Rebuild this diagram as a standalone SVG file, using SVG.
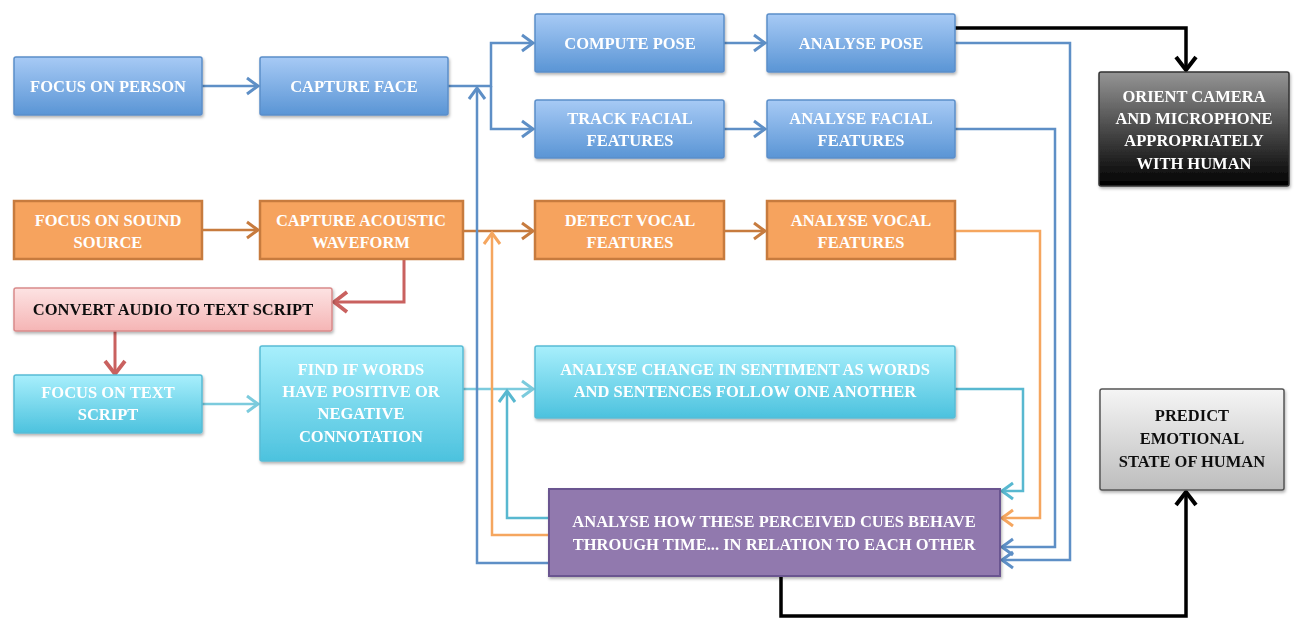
<svg xmlns="http://www.w3.org/2000/svg" width="1294" height="621" viewBox="0 0 1294 621">
<style>
  .t { font-family: "Liberation Serif", "DejaVu Serif", serif; font-size: 16.5px; font-weight: bold; text-anchor: middle; dominant-baseline: central; }
  .w { fill: #ffffff; }
  .k { fill: #111111; }
  .blue { fill: url(#gBlue); stroke: #5b8ec9; stroke-width: 1.5; }
  .orange { fill: #f6a35e; stroke: #c77b3e; stroke-width: 2.5; }
  .pink { fill: url(#gPink); stroke: #d98a8a; stroke-width: 1.5; }
  .cyan { fill: url(#gCyan); stroke: #58bcd5; stroke-width: 1.5; }
  .purple { fill: #9179ae; stroke: #6a5590; stroke-width: 2; }
  .dark { fill: url(#gDark); stroke: #333333; stroke-width: 1.5; }
  .gray { fill: url(#gGray); stroke: #555555; stroke-width: 1.5; }
  .c { fill: none; stroke-linejoin: miter; }
  .cb { stroke: #5e8fc6; stroke-width: 2.5; }
  .co { stroke: #c77b3e; stroke-width: 2.5; }
  .cl { stroke: #f5a65f; stroke-width: 2.5; }
  .cr { stroke: #c9615f; stroke-width: 3; }
  .cc { stroke: #58b8d0; stroke-width: 2.5; }
  .cc2 { stroke: #7ccbdd; stroke-width: 2.5; }
  .ck { stroke: #000000; stroke-width: 3.5; }
</style>
<defs>
  <linearGradient id="gBlue" x1="0" y1="0" x2="0" y2="1"><stop offset="0" stop-color="#a7caf5"/><stop offset="1" stop-color="#5a95d5"/></linearGradient>
  <linearGradient id="gPink" x1="0" y1="0" x2="0" y2="1"><stop offset="0" stop-color="#fde3e3"/><stop offset="1" stop-color="#f5b5b5"/></linearGradient>
  <linearGradient id="gCyan" x1="0" y1="0" x2="0" y2="1"><stop offset="0" stop-color="#a8effc"/><stop offset="1" stop-color="#4cc2de"/></linearGradient>
  <linearGradient id="gDark" x1="0" y1="0" x2="0" y2="1"><stop offset="0" stop-color="#959595"/><stop offset="0.5" stop-color="#4a4a4a"/><stop offset="1" stop-color="#000000"/></linearGradient>
  <linearGradient id="gGray" x1="0" y1="0" x2="0" y2="1"><stop offset="0" stop-color="#f5f5f5"/><stop offset="1" stop-color="#bdbdbd"/></linearGradient>
  <filter id="sh" x="-10%" y="-10%" width="120%" height="130%"><feDropShadow dx="1" dy="2" stdDeviation="1.5" flood-color="#000" flood-opacity="0.3"/></filter>
  <marker id="aB" markerUnits="userSpaceOnUse" markerWidth="16" markerHeight="20" viewBox="0 0 16 20" refX="13" refY="10" orient="auto"><path d="M2,2 L13,10 L2,18" fill="none" stroke="#5e8fc6" stroke-width="3"/></marker>
  <marker id="aO" markerUnits="userSpaceOnUse" markerWidth="16" markerHeight="20" viewBox="0 0 16 20" refX="13" refY="10" orient="auto"><path d="M2,2 L13,10 L2,18" fill="none" stroke="#c77b3e" stroke-width="3"/></marker>
  <marker id="aL" markerUnits="userSpaceOnUse" markerWidth="16" markerHeight="20" viewBox="0 0 16 20" refX="13" refY="10" orient="auto"><path d="M2,2 L13,10 L2,18" fill="none" stroke="#f5a65f" stroke-width="3"/></marker>
  <marker id="aR" markerUnits="userSpaceOnUse" markerWidth="18" markerHeight="24" viewBox="0 0 18 24" refX="15" refY="12" orient="auto"><path d="M2,2 L15,12 L2,22" fill="none" stroke="#c9615f" stroke-width="3.8"/></marker>
  <marker id="aC" markerUnits="userSpaceOnUse" markerWidth="16" markerHeight="20" viewBox="0 0 16 20" refX="13" refY="10" orient="auto"><path d="M2,2 L13,10 L2,18" fill="none" stroke="#58b8d0" stroke-width="3"/></marker>
  <marker id="aC2" markerUnits="userSpaceOnUse" markerWidth="16" markerHeight="20" viewBox="0 0 16 20" refX="13" refY="10" orient="auto"><path d="M2,2 L13,10 L2,18" fill="none" stroke="#7ccbdd" stroke-width="3"/></marker>
  <marker id="aK" markerUnits="userSpaceOnUse" markerWidth="18" markerHeight="24" viewBox="0 0 18 24" refX="15" refY="12" orient="auto"><path d="M2,2 L15,12 L2,22" fill="none" stroke="#000" stroke-width="4"/></marker>
</defs>
<rect width="1294" height="621" fill="#ffffff"/>

<g id="connectors">
  <path class="c cb" d="M202,86 H258" marker-end="url(#aB)"/>
  <path class="c cb" d="M448,86 H491 V43 H533" marker-end="url(#aB)"/>
  <path class="c cb" d="M491,86 V129 H533" marker-end="url(#aB)"/>
  <path class="c cb" d="M724,43 H765" marker-end="url(#aB)"/>
  <path class="c cb" d="M724,129 H765" marker-end="url(#aB)"/>
  <path class="c co" d="M202,230 H258" marker-end="url(#aO)"/>
  <path class="c co" d="M463,231 H533" marker-end="url(#aO)"/>
  <path class="c co" d="M724,231 H765" marker-end="url(#aO)"/>
  <path class="c cr" d="M404,259 V302 H334" marker-end="url(#aR)"/>
  <path class="c cr" d="M115,331 V374" stroke-width="4" marker-end="url(#aR)"/>
  <path class="c cc2" d="M202,404 H258" marker-end="url(#aC2)"/>
  <path class="c cc2" d="M463,389 H533" marker-end="url(#aC2)"/>
  <path class="c cb" d="M549,563 H477 V88" marker-end="url(#aB)"/>
  <path class="c cl" d="M549,535 H492 V233" marker-end="url(#aL)"/>
  <path class="c cc" d="M549,518 H507 V391" marker-end="url(#aC)"/>
  <path class="c cb" d="M955,43 H1070 V560 H1002" marker-end="url(#aB)"/>
  <path class="c cb" d="M955,129 H1055 V547 H1002" marker-end="url(#aB)"/>
  <path class="c cl" d="M955,231 H1040 V518 H1002" marker-end="url(#aL)"/>
  <path class="c cc" d="M955,389 H1023 V491 H1002" marker-end="url(#aC)"/>
  <path class="c ck" d="M955,28 H1186 V70" marker-end="url(#aK)"/>
  <path class="c ck" d="M781,577 V616 H1186 V492" marker-end="url(#aK)"/>
</g>

<g id="focus-person" filter="url(#sh)"><rect class="blue" x="14" y="57" width="188" height="58" rx="2"/><text class="t w" x="108" y="86">FOCUS ON PERSON</text></g>
<g id="capture-face" filter="url(#sh)"><rect class="blue" x="260" y="57" width="188" height="58" rx="2"/><text class="t w" x="354" y="86">CAPTURE FACE</text></g>
<g id="compute-pose" filter="url(#sh)"><rect class="blue" x="535" y="14" width="189" height="58" rx="2"/><text class="t w" x="630" y="43">COMPUTE POSE</text></g>
<g id="analyse-pose" filter="url(#sh)"><rect class="blue" x="767" y="14" width="188" height="58" rx="2"/><text class="t w" x="861" y="43">ANALYSE POSE</text></g>
<g id="track-facial" filter="url(#sh)"><rect class="blue" x="535" y="100" width="189" height="58" rx="2"/><text class="t w" x="630" y="118">TRACK FACIAL</text><text class="t w" x="630" y="140">FEATURES</text></g>
<g id="analyse-facial" filter="url(#sh)"><rect class="blue" x="767" y="100" width="188" height="58" rx="2"/><text class="t w" x="861" y="118">ANALYSE FACIAL</text><text class="t w" x="861" y="140">FEATURES</text></g>
<g id="orient-camera" filter="url(#sh)"><rect class="dark" x="1099" y="72" width="190" height="114" rx="2"/><text class="t w" x="1194" y="96">ORIENT CAMERA</text><text class="t w" x="1194" y="118">AND MICROPHONE</text><text class="t w" x="1194" y="140">APPROPRIATELY</text><text class="t w" x="1194" y="163">WITH HUMAN</text></g>

<g id="focus-sound"><rect class="orange" x="14" y="201" width="188" height="58"/><text class="t w" x="108" y="220">FOCUS ON SOUND</text><text class="t w" x="108" y="242">SOURCE</text></g>
<g id="capture-acoustic"><rect class="orange" x="260" y="201" width="203" height="58"/><text class="t w" x="361" y="220">CAPTURE ACOUSTIC</text><text class="t w" x="361" y="242">WAVEFORM</text></g>
<g id="detect-vocal"><rect class="orange" x="535" y="201" width="189" height="58"/><text class="t w" x="630" y="220">DETECT VOCAL</text><text class="t w" x="630" y="242">FEATURES</text></g>
<g id="analyse-vocal"><rect class="orange" x="767" y="201" width="188" height="58"/><text class="t w" x="861" y="220">ANALYSE VOCAL</text><text class="t w" x="861" y="242">FEATURES</text></g>

<g id="convert-audio" filter="url(#sh)"><rect class="pink" x="14" y="288" width="318" height="43" rx="2"/><text class="t k" x="173" y="309">CONVERT AUDIO TO TEXT SCRIPT</text></g>

<g id="focus-text" filter="url(#sh)"><rect class="cyan" x="14" y="375" width="188" height="58" rx="2"/><text class="t w" x="108" y="392">FOCUS ON TEXT</text><text class="t w" x="108" y="414">SCRIPT</text></g>
<g id="find-words" filter="url(#sh)"><rect class="cyan" x="260" y="346" width="203" height="115" rx="2"/><text class="t w" x="361" y="369">FIND IF WORDS</text><text class="t w" x="361" y="391">HAVE POSITIVE OR</text><text class="t w" x="361" y="413">NEGATIVE</text><text class="t w" x="361" y="436">CONNOTATION</text></g>
<g id="analyse-sentiment" filter="url(#sh)"><rect class="cyan" x="535" y="346" width="420" height="72" rx="2"/><text class="t w" x="745" y="369">ANALYSE CHANGE IN SENTIMENT AS WORDS</text><text class="t w" x="745" y="391">AND SENTENCES FOLLOW ONE ANOTHER</text></g>

<g id="predict-emotion" filter="url(#sh)"><rect class="gray" x="1100" y="389" width="184" height="101" rx="2"/><text class="t k" x="1192" y="415">PREDICT</text><text class="t k" x="1192" y="438">EMOTIONAL</text><text class="t k" x="1192" y="461">STATE OF HUMAN</text></g>

<g id="analyse-cues" filter="url(#sh)"><rect class="purple" x="549" y="489" width="451" height="87"/><text class="t w" x="774" y="521">ANALYSE HOW THESE PERCEIVED CUES BEHAVE</text><text class="t w" x="774" y="544">THROUGH TIME... IN RELATION TO EACH OTHER</text></g>
</svg>
